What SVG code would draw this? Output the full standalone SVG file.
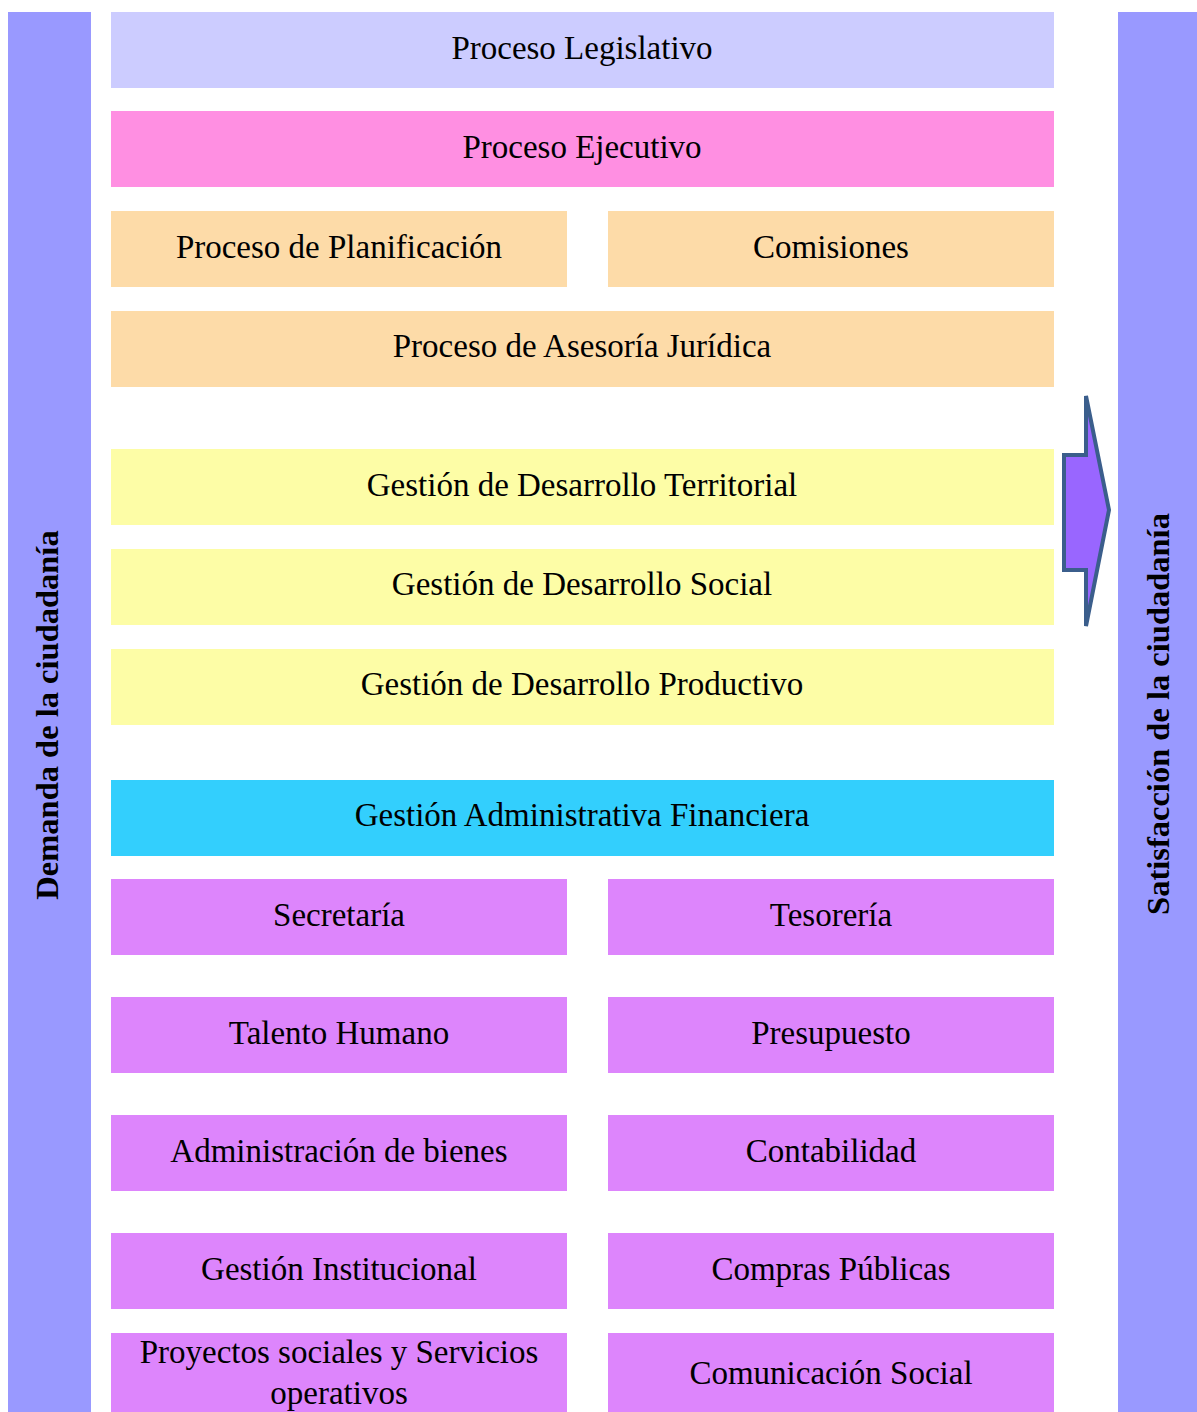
<svg xmlns="http://www.w3.org/2000/svg" width="1197" height="1412" viewBox="0 0 1197 1412">
<style>
text{font-family:"Liberation Serif","Times New Roman",serif;font-size:33px;fill:#000;text-anchor:middle}
.side{font-weight:bold;font-size:32.5px}
.bar{fill:#9999FF}
.leg{fill:#CCCCFF}
.eje{fill:#FF8FE2}
.pla{fill:#FDDBA8}
.des{fill:#FDFDA6}
.adm{fill:#33CFFD}
.sub{fill:#DD85FC}
</style>
<rect width="1197" height="1412" fill="#fff"/>
<g id="demanda"><rect class="bar" x="8" y="12" width="83" height="1400"/><text class="side" transform="translate(58,715) rotate(-90)">Demanda de la ciudadanía</text></g>
<g id="satisfaccion"><rect class="bar" x="1118" y="12" width="79" height="1400"/><text class="side" transform="translate(1169,714) rotate(-90)">Satisfacción de la ciudadanía</text></g>
<g id="legislativo"><rect class="leg" x="111" y="12" width="943" height="76"/><text x="582" y="59">Proceso Legislativo</text></g>
<g id="ejecutivo"><rect class="eje" x="111" y="111" width="943" height="76"/><text x="582" y="158">Proceso Ejecutivo</text></g>
<g id="planificacion"><rect class="pla" x="111" y="211" width="456" height="76"/><text x="339" y="258">Proceso de Planificación</text></g>
<g id="comisiones"><rect class="pla" x="608" y="211" width="446" height="76"/><text x="831" y="258">Comisiones</text></g>
<g id="asesoria"><rect class="pla" x="111" y="311" width="943" height="76"/><text x="582" y="357">Proceso de Asesoría Jurídica</text></g>
<g id="territorial"><rect class="des" x="111" y="449" width="943" height="76"/><text x="582" y="496">Gestión de Desarrollo Territorial</text></g>
<g id="social"><rect class="des" x="111" y="549" width="943" height="76"/><text x="582" y="595">Gestión de Desarrollo Social</text></g>
<g id="productivo"><rect class="des" x="111" y="649" width="943" height="76"/><text x="582" y="695">Gestión de Desarrollo Productivo</text></g>
<g id="administrativa"><rect class="adm" x="111" y="780" width="943" height="76"/><text x="582" y="826">Gestión Administrativa Financiera</text></g>
<g id="secretaria"><rect class="sub" x="111" y="879" width="456" height="76"/><text x="339" y="926">Secretaría</text></g>
<g id="tesoreria"><rect class="sub" x="608" y="879" width="446" height="76"/><text x="831" y="926">Tesorería</text></g>
<g id="talento"><rect class="sub" x="111" y="997" width="456" height="76"/><text x="339" y="1044">Talento Humano</text></g>
<g id="presupuesto"><rect class="sub" x="608" y="997" width="446" height="76"/><text x="831" y="1044">Presupuesto</text></g>
<g id="bienes"><rect class="sub" x="111" y="1115" width="456" height="76"/><text x="339" y="1162">Administración de bienes</text></g>
<g id="contabilidad"><rect class="sub" x="608" y="1115" width="446" height="76"/><text x="831" y="1162">Contabilidad</text></g>
<g id="institucional"><rect class="sub" x="111" y="1233" width="456" height="76"/><text x="339" y="1280">Gestión Institucional</text></g>
<g id="compras"><rect class="sub" x="608" y="1233" width="446" height="76"/><text x="831" y="1280">Compras Públicas</text></g>
<g id="proyectos"><rect class="sub" x="111" y="1333" width="456" height="79"/><text x="339" y="1363">Proyectos sociales y Servicios</text><text x="339" y="1404">operativos</text></g>
<g id="comunicacion"><rect class="sub" x="608" y="1333" width="446" height="79"/><text x="831" y="1384">Comunicación Social</text></g>
<g id="connectors"><polygon points="1086,396 1086,455 1064,455 1064,570 1086,570 1086,626 1109,510" fill="#9966FF" stroke="#3B5E8C" stroke-width="4" stroke-linejoin="miter"/></g>
</svg>
